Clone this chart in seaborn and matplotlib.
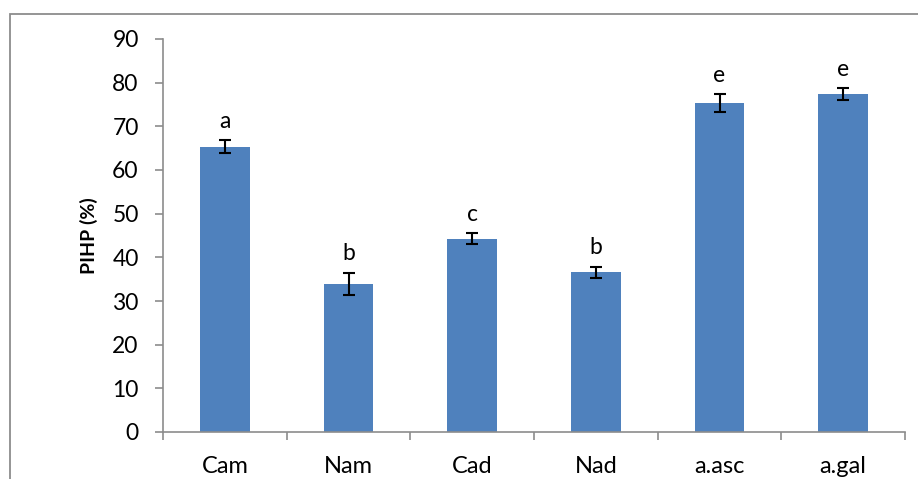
import matplotlib
matplotlib.use("Agg")
import matplotlib.pyplot as plt
import seaborn as sns
import pandas as pd
from matplotlib.patches import Rectangle

# Treatments, mean PIHP values, standard errors and significance letters
treatments = ["Cam", "Nam", "Cad", "Nad", "a.asc", "a.gal"]
pihp_mean = [65.3, 33.9, 44.3, 36.6, 75.3, 77.4]
pihp_err = [1.5, 2.6, 1.3, 1.3, 2.1, 1.3]
letters = ["a", "b", "c", "b", "e", "e"]
y_ticks = [0, 10, 20, 30, 40, 50, 60, 70, 80, 90]

df = pd.DataFrame({"treatment": treatments, "pihp": pihp_mean, "err": pihp_err})

sns.set_theme(style="white")
plt.rcParams["font.family"] = ["Lato", "DejaVu Sans"]

fig = plt.figure(figsize=(9.18, 4.79), dpi=100)
ax = fig.add_axes([163 / 918, 1 - 432 / 479, 742 / 918, 393 / 479])

# Outer chart-area border
fig.patches.append(Rectangle((10 / 918, -0.05), 1.2, 1 - 14.5 / 479 + 0.05,
                             transform=fig.transFigure, fill=False,
                             edgecolor="#8c8c8c", linewidth=1.3))

bar_color = "#4F81BD"
sns.barplot(data=df, x="treatment", y="pihp", color=bar_color, width=0.4,
            saturation=1, errorbar=None, ax=ax, edgecolor=bar_color, linewidth=0)

xs = range(len(treatments))
ax.errorbar(list(xs), pihp_mean, yerr=pihp_err, fmt="none", ecolor="black",
            elinewidth=1.5, capsize=4.5, capthick=1.5)

for x, m, e, lab in zip(xs, pihp_mean, pihp_err, letters):
    ax.annotate(lab, (x, m + e), xytext=(0, 6), textcoords="offset points",
                ha="center", va="bottom", fontsize=16.5, color="black")

ax.set_ylim(0, 90)
ax.set_xlim(-0.5, len(treatments) - 0.5)
ax.set_yticks(y_ticks)
ax.set_yticklabels([str(v) for v in y_ticks])

# Category boundaries carry the tick marks; labels sit at the centres
ax.set_xticks([i - 0.5 for i in range(len(treatments) + 1)], minor=True)
ax.tick_params(axis="x", which="major", length=0, pad=17, labelsize=17, labelcolor="black")
ax.tick_params(axis="x", which="minor", length=5.5, width=1.2, color="#8c8c8c", direction="out")
ax.tick_params(axis="y", which="major", length=5.5, width=1.2, color="#8c8c8c",
               direction="out", pad=12, labelsize=16.5, labelcolor="black", left=True)
ax.tick_params(axis="x", which="minor", bottom=True)

ax.set_xlabel("")
ax.set_ylabel("PIHP (%)", fontsize=14, fontweight="bold", color="black", labelpad=10)

for side in ["top", "right"]:
    ax.spines[side].set_visible(False)
for side in ["left", "bottom"]:
    ax.spines[side].set_color("#8c8c8c")
    ax.spines[side].set_linewidth(1.2)

fig.savefig("out.png", dpi=100)
